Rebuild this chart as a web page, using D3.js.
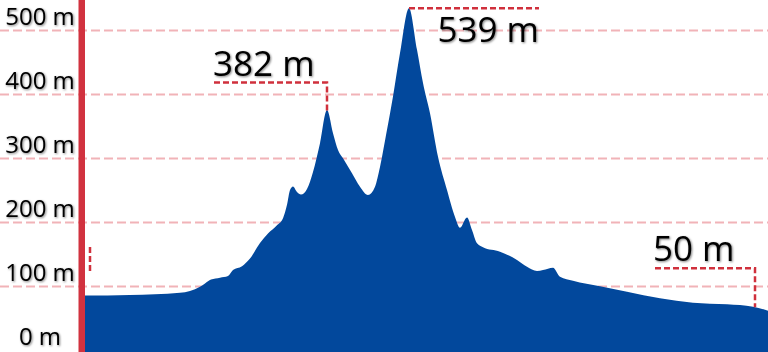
<!DOCTYPE html>
<html>
<head>
<meta charset="utf-8">
<script src="https://cdn.jsdelivr.net/npm/d3@7"></script>
<style>
  html, body { margin: 0; padding: 0; background: #fff; }
  svg { display: block; }
  text { font-family: "Open Sans", Roboto, sans-serif; fill: #000; }
</style>
</head>
<body>
<svg id="chart" width="768" height="352"></svg>
<script>
// ---- data ----
const distance = [0, 45, 95, 115, 120, 126, 135, 143, 148, 157, 165, 175, 183, 192, 198, 202, 205, 208, 212, 216, 222, 228, 235, 242, 248, 253, 258, 267, 275, 283, 290, 295, 302, 308, 315, 324, 332, 338, 345, 353, 362, 370, 375, 382, 387, 392, 398, 415, 432, 442, 452, 458, 468, 475, 488, 515, 542, 575, 608, 642, 668, 683];
const elevation = [85, 86, 89.5, 99, 104, 110, 113, 115.6, 125, 131, 143, 167, 182, 195, 206, 227, 250, 255.5, 247, 243, 251.6, 278, 323, 375, 338.6, 312.5, 299.5, 276, 255, 242, 255, 286, 344, 396, 464, 534, 469, 417, 370, 302, 250, 208, 191, 207, 187.5, 166.7, 160.5, 153.6, 140.6, 130, 123.4, 125, 128.6, 114.5, 108.3, 99.5, 91, 80.8, 73.9, 71.4, 67.7, 61.4];
const tickValues = [0, 100, 200, 300, 400, 500];
const tickLabels = ["0 m", "100 m", "200 m", "300 m", "400 m", "500 m"];
const annoLabels = ["382 m", "539 m", "50 m"];
const annoDistance = [242, 324, 670];

// ---- layout ----
const W = 768, H = 352;
const svg = d3.select("#chart");
const x = d3.scaleLinear().domain([0, 683]).range([85, 768]);
const y = d3.scaleLinear().domain([0, 500]).range([350, 30]);

const defs = svg.append("defs");
const f = defs.append("filter").attr("id", "shadow").attr("x", "-10%").attr("y", "-20%").attr("width", "130%").attr("height", "150%");
f.append("feDropShadow").attr("dx", 1).attr("dy", 1).attr("stdDeviation", 1.1).attr("flood-color", "#000").attr("flood-opacity", 0.5);

// gridlines
const grid = svg.append("g")
  .call(d3.axisRight(y).tickValues(tickValues.filter(v => v > 0)).tickSize(W).tickFormat(""));
grid.select(".domain").remove();
grid.selectAll(".tick line")
  .attr("stroke", "#f1b3b8").attr("stroke-width", 2).attr("stroke-dasharray", "9,4");

// area
const pts = distance.map((d, i) => [d, elevation[i]]);
const area = d3.area()
  .x(d => x(d[0])).y0(y(0) + 2).y1(d => y(d[1]))
  .curve(d3.curveMonotoneX);
svg.append("path").datum(pts).attr("d", area).attr("fill", "#02489c");

// red axis line
svg.append("rect").attr("x", 78.5).attr("y", 0).attr("width", 6.5).attr("height", H).attr("fill", "#d1323f");

// y axis labels
const yAxis = svg.append("g")
  .call(d3.axisLeft(y).tickValues(tickValues).tickSize(0).tickFormat((d, i) => tickLabels[i]));
yAxis.select(".domain").remove();
yAxis.selectAll(".tick text")
  .attr("x", 40).attr("dy", -6).attr("text-anchor", "middle")
  .attr("dominant-baseline", "alphabetic")
  .style("font-size", "24px").style("font-family", "'Open Sans', Roboto, sans-serif")
  .attr("fill", "#000").attr("filter", "url(#shadow)");

// annotations
const elevAt = d => {
  const i = distance.findIndex(v => v >= d);
  if (distance[i] === d) return elevation[i];
  const t = (d - distance[i - 1]) / (distance[i] - distance[i - 1]);
  return elevation[i - 1] + t * (elevation[i] - elevation[i - 1]);
};
const leader = (pathPts) => svg.append("path")
  .attr("d", d3.line()(pathPts))
  .attr("fill", "none").attr("stroke", "#d0303c").attr("stroke-width", 2.5).attr("stroke-dasharray", "6,3");

// 382 m : label left of peak, leader left then down
{
  const px = x(annoDistance[0]), py = y(elevAt(annoDistance[0]));
  leader([[214, 82.5], [px, 82.5], [px, py + 2]]);
  svg.append("text").attr("x", 213).attr("y", 76).style("font-size", "35px").attr("filter", "url(#shadow)").text(annoLabels[0]);
}
// 539 m : leader right from peak, label below
{
  const px = x(annoDistance[1]), py = y(elevAt(annoDistance[1]));
  leader([[px, py], [539, py]]);
  svg.append("text").attr("x", 539).attr("y", 41.5).attr("text-anchor", "end").style("font-size", "35px").attr("filter", "url(#shadow)").text(annoLabels[1]);
}
// 50 m : leader left from point
{
  const px = x(annoDistance[2]), py = y(elevAt(annoDistance[2]));
  leader([[655, 268.3], [px, 268.3], [px, py]]);
  svg.append("text").attr("x", 653).attr("y", 261).style("font-size", "35px").attr("filter", "url(#shadow)").text(annoLabels[2]);
}
// start marker fragment
leader([[x(5), 247], [x(5), 272]]);
</script>
</body>
</html>
